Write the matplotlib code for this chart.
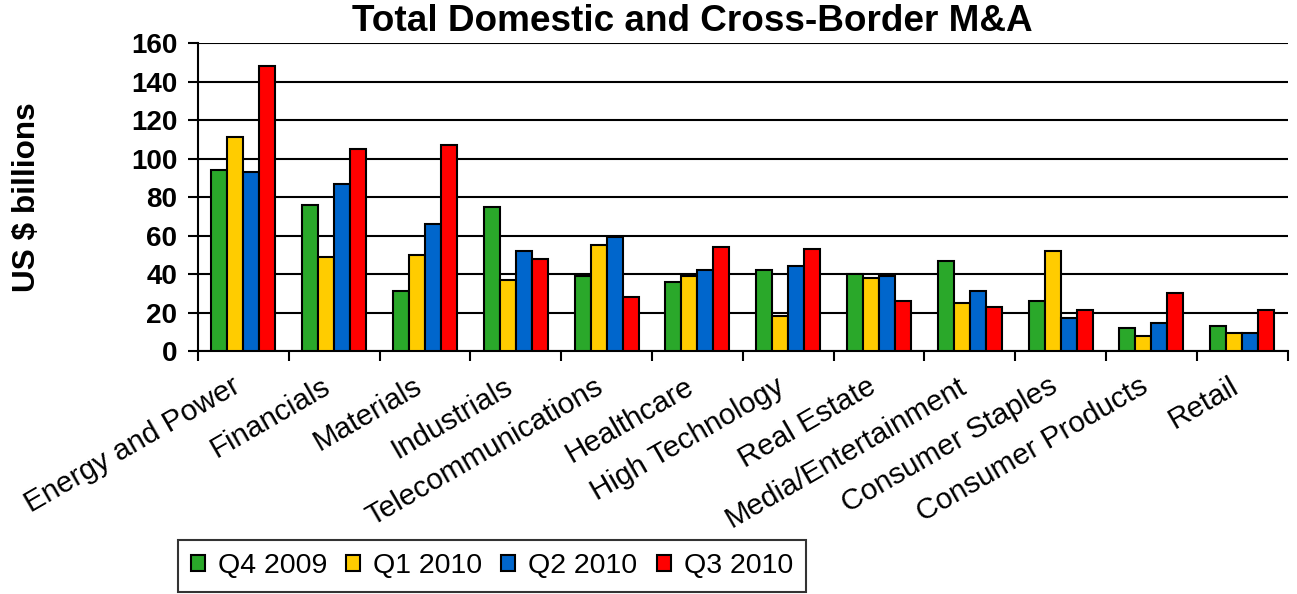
import numpy as np
import matplotlib.pyplot as plt

plt.rcParams['font.family'] = ['Liberation Sans', 'DejaVu Sans']

sectors = ["Energy and Power", "Financials", "Materials", "Industrials",
           "Telecommunications", "Healthcare", "High Technology", "Real Estate",
           "Media/Entertainment", "Consumer Staples", "Consumer Products", "Retail"]
quarters = ["Q4 2009", "Q1 2010", "Q2 2010", "Q3 2010"]

q4_2009 = [94, 76, 31, 75, 39, 36, 42, 40, 47, 26, 12, 13]
q1_2010 = [111, 49, 50, 37, 55, 39, 18, 38, 25, 52, 8, 9.5]
q2_2010 = [93, 87, 66, 52, 59, 42, 44, 39, 31, 17, 14.5, 9.5]
q3_2010 = [148, 105, 107, 48, 28, 54, 53, 26, 23, 21.5, 30, 21.5]

series = [q4_2009, q1_2010, q2_2010, q3_2010]
colors = ["#2AA82A", "#FFCC00", "#0066CC", "#FF0000"]

fig = plt.figure(figsize=(12.97, 5.94), dpi=100)
ax = fig.add_axes([0.1527, 0.409, 0.840, 0.5185])

x = np.arange(len(sectors))
w = 0.176
for i, (vals, c, lab) in enumerate(zip(series, colors, quarters)):
    ax.bar(x + (i - 1.5) * w, vals, width=w, color=c, edgecolor="black",
           linewidth=1.5, label=lab, zorder=3)

ax.set_xlim(-0.5, len(sectors) - 0.5)
ax.set_ylim(0, 160)
ax.set_yticks(np.arange(0, 161, 20))
ax.yaxis.grid(True, color="black", linewidth=1.5, zorder=0)
ax.set_axisbelow(True)

for s in ["top", "right"]:
    ax.spines[s].set_visible(False)
ax.spines["left"].set_linewidth(1.5)
ax.spines["bottom"].set_linewidth(1.5)

# tick marks sit between categories, labels at the centres
ax.set_xticks(np.arange(-0.5, len(sectors), 1.0))
ax.set_xticklabels([])
ax.tick_params(axis="x", length=7, width=1.5)
ax.tick_params(axis="y", length=7, width=1.5, labelsize=20, pad=8)
for lbl in ax.get_yticklabels():
    lbl.set_fontweight("bold")

for xi, name in zip(x, sectors):
    ax.text(xi - 0.14, -11, name, rotation=30, ha="right", va="top",
            rotation_mode="anchor", fontsize=21.3, transform=ax.transData)

ax.set_ylabel("US $ billions", fontsize=22.7, fontweight="bold")
ax.yaxis.set_label_coords(-0.143, 0.5)
fig.text(0.5335, 0.963, "Total Domestic and Cross-Border M&A", ha="center",
         va="center", fontsize=26.6, fontweight="bold")

leg = fig.legend(loc="lower left", bbox_to_anchor=(0.137, 0.004), ncol=4,
                 fontsize=20.5, frameon=True, fancybox=False, edgecolor="black",
                 handlelength=0.5, handleheight=0.5, handletextpad=0.45,
                 columnspacing=0.67, borderpad=0.45, borderaxespad=0)
leg.get_frame().set_linewidth(1.5)

fig.savefig("out.png", dpi=100)
